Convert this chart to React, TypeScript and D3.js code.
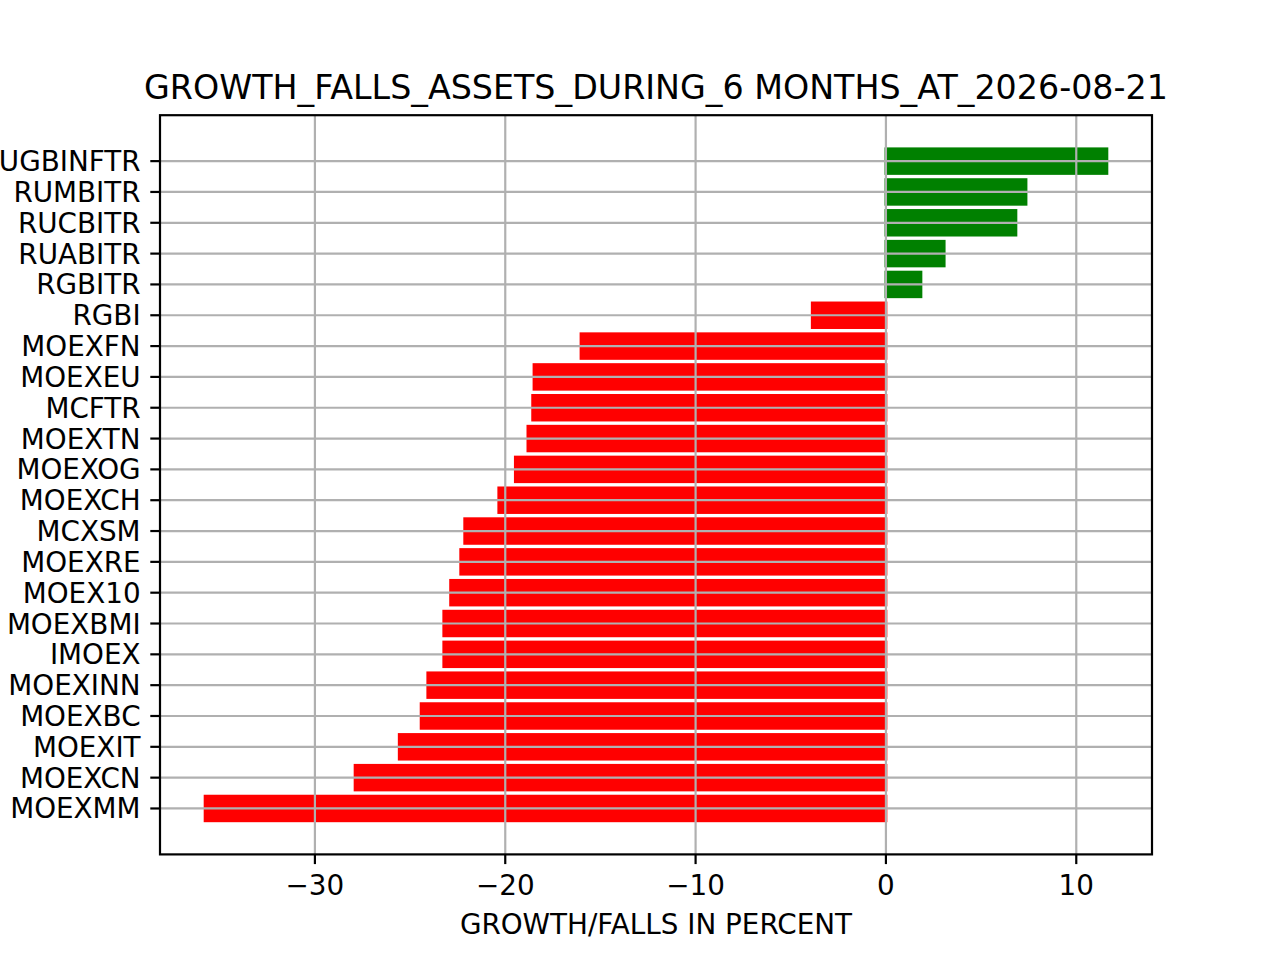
import React from 'react';
import * as d3 from 'd3';

// top-to-bottom order, as shown
const tickers = [
  'RUGBINFTR', 'RUMBITR', 'RUCBITR', 'RUABITR', 'RGBITR', 'RGBI',
  'MOEXFN', 'MOEXEU', 'MCFTR', 'MOEXTN', 'MOEXOG', 'MOEXCH', 'MCXSM',
  'MOEXRE', 'MOEX10', 'MOEXBMI', 'IMOEX', 'MOEXINN', 'MOEXBC', 'MOEXIT',
  'MOEXCN', 'MOEXMM',
];
const changes = [
  11.61, 7.36, 6.83, 3.06, 1.84, -3.87,
  -16.02, -18.49, -18.56, -18.81, -19.47, -20.34, -22.13,
  -22.34, -22.87, -23.23, -23.23, -24.07, -24.42, -25.57,
  -27.89, -35.77,
];
const xTicks = [-30, -20, -10, 0, 10];

const W = 1280, H = 960;
const left = 160, right = 1152, top = 115.2, bottom = 854.4;
const font = '"DejaVu Sans", sans-serif';
const gridColor = '#b0b0b0';

const App = () => {
  // matplotlib-like 5% margins
  const lo = Math.min(0, d3.min(changes)!);
  const hi = Math.max(0, d3.max(changes)!);
  const padX = (hi - lo) * 0.05;
  const x = d3.scaleLinear().domain([lo - padX, hi + padX]).range([left, right]);

  const n = tickers.length;
  const barH = 0.8;
  const yLo = -barH / 2, yHi = n - 1 + barH / 2;
  const padY = (yHi - yLo) * 0.05;
  const y = d3.scaleLinear().domain([yLo - padY, yHi + padY]).range([top, bottom]);
  const bandPx = y(1) - y(0);
  const fmt = d3.format('d');

  return (
    <svg width={W} height={H} style={{ position: 'absolute', left: 0, top: 0, background: '#fff' }}>
      <rect x={0} y={0} width={W} height={H} fill="#fff" />
      <text x={(left + right) / 2} y={98.5} textAnchor="middle" fontFamily={font} fontSize={33.3}>
        GROWTH_FALLS_ASSETS_DURING_6 MONTHS_AT_2026-08-21
      </text>

      {/* bars, edged in their own colour */}
      {changes.map((v, i) => {
        const c = v >= 0 ? '#008000' : '#ff0000';
        return (
          <rect key={tickers[i]}
            x={x(Math.min(0, v))} width={Math.abs(x(v) - x(0))}
            y={y(i) - (barH * bandPx) / 2} height={barH * bandPx}
            fill={c} stroke={c} strokeWidth={2.8} />
        );
      })}

      {/* grid above bars */}
      {xTicks.map(t => (
        <line key={'gx' + t} x1={x(t)} x2={x(t)} y1={top} y2={bottom} stroke={gridColor} strokeWidth={2.2} />
      ))}
      {tickers.map((t, i) => (
        <line key={'gy' + t} x1={left} x2={right} y1={y(i)} y2={y(i)} stroke={gridColor} strokeWidth={2.2} />
      ))}

      {/* frame */}
      <rect x={left} y={top} width={right - left} height={bottom - top} fill="none" stroke="#000" strokeWidth={2.2} />

      {/* x axis */}
      {xTicks.map(t => (
        <g key={'xt' + t}>
          <line x1={x(t)} x2={x(t)} y1={bottom} y2={bottom + 9.7} stroke="#000" strokeWidth={2.2} />
          <text x={x(t)} y={895} textAnchor="middle" fontFamily={font} fontSize={27.8}>{fmt(t)}</text>
        </g>
      ))}
      <text x={(left + right) / 2} y={934} textAnchor="middle" fontFamily={font} fontSize={27.8}>
        GROWTH/FALLS IN PERCENT
      </text>

      {/* y axis */}
      {tickers.map((t, i) => (
        <g key={'yt' + t}>
          <line x1={left - 9.7} x2={left} y1={y(i)} y2={y(i)} stroke="#000" strokeWidth={2.2} />
          <text x={left - 19.4} y={y(i) + 10} textAnchor="end" fontFamily={font} fontSize={27.8}>{t}</text>
        </g>
      ))}
    </svg>
  );
};

export default App;
